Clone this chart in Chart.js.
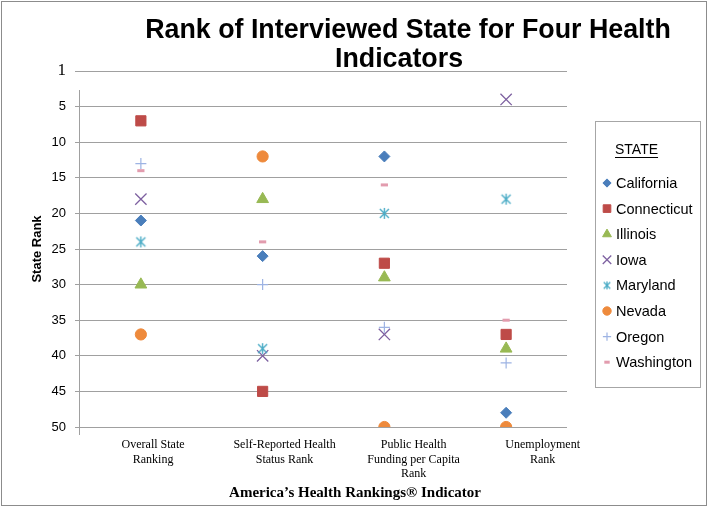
<!DOCTYPE html>
<html>
<head>
<meta charset="utf-8">
<script src="https://cdn.jsdelivr.net/npm/chart.js@4/dist/chart.umd.min.js"></script>
<style>
  body { margin: 0; background: #fff; }
  canvas { display: block; }
</style>
</head>
<body>
<canvas id="rankChart" width="708" height="507"></canvas>
<script>
// Data (rank 1 = best, axis runs 1..50 downwards)
const indicators = [
  ["Overall State", "Ranking"],
  ["Self-Reported Health", "Status Rank"],
  ["Public Health", "Funding per Capita", "Rank"],
  ["Unemployment", "Rank"],
];
const states = ["California", "Connecticut", "Illinois", "Iowa", "Maryland", "Nevada", "Oregon", "Washington"];
const california = [21, 26, 12, 48];
const connecticut = [7, 45, 27, 37];
const illinois = [30, 18, 29, 39];
const iowa = [18, 40, 37, 4];
const maryland = [24, 39, 20, 18];
const nevada = [37, 12, 50, 50];
const oregon = [13, 30, 36, 41];
const washington = [14, 24, 16, 35];
const yTickValues = [0, 5, 10, 15, 20, 25, 30, 35, 40, 45, 50];
const yTickLabels = ["1", "5", "10", "15", "20", "25", "30", "35", "40", "45", "50"];

const chartTitle = ["Rank of Interviewed State for Four Health", "Indicators"];
const xTitle = "America\u2019s Health Rankings\u00AE Indicator";
const yTitle = "State Rank";
const legendTitle = "STATE";

// where the indicator captions sit on the x scale (they are offset from the marks in the original)
const captionSpots = [0.6, 1.68, 2.74, 3.8];

function makeAsterisk(color, size, width) {
  const c = document.createElement("canvas");
  c.width = c.height = size;
  const g = c.getContext("2d");
  const m = size / 2;
  const a = size / 2 - 1;
  const d = a * 0.82;
  g.strokeStyle = color;
  g.lineWidth = width;
  g.beginPath();
  g.moveTo(m - d, m - d); g.lineTo(m + d, m + d);
  g.moveTo(m + d, m - d); g.lineTo(m - d, m + d);
  g.moveTo(m, m - a); g.lineTo(m, m + a);
  g.stroke();
  return c;
}

const looks = [
  { color: "#4A7EBB", style: "rectRot", radius: 5.5, border: 1 },
  { color: "#BE4B48", style: "rect", radius: 7.2, border: 1 },
  { color: "#98B954", style: "triangle", radius: 6.8, border: 1 },
  { color: "#7D60A0", style: "crossRot", radius: 8, border: 1.3 },
  { color: "#4BACC6", style: makeAsterisk("#4BACC6", 13, 1.4), small: makeAsterisk("#4BACC6", 10, 1.3), radius: 6, border: 1 },
  { color: "#EE8A3C", style: "circle", radius: 5.6, border: 1 },
  { color: "#9DB3E3", style: "cross", radius: 5.5, border: 1.2 },
  { color: "#E29CAE", style: "line", radius: 3.6, border: 3 },
];

const series = [california, connecticut, illinois, iowa, maryland, nevada, oregon, washington];

const datasets = states.map((name, i) => ({
  label: name,
  data: series[i].map((v, j) => ({ x: j + 0.5, y: v })),
  pointStyle: looks[i].style,
  pointRadius: looks[i].radius,
  borderWidth: looks[i].border,
  backgroundColor: looks[i].color,
  borderColor: looks[i].color,
  showLine: false,
  order: states.length - i,
}));

const decorations = {
  id: "decorations",
  afterDraw(chart) {
    const ctx = chart.ctx;
    ctx.save();

    // outer frame
    ctx.strokeStyle = "#8c8c8c";
    ctx.lineWidth = 1;
    ctx.strokeRect(1.5, 1.5, 705, 504);

    // vertical axis line
    ctx.strokeStyle = "#a0a0a0";
    ctx.beginPath();
    ctx.moveTo(79.5, 90);
    ctx.lineTo(79.5, 435);
    ctx.stroke();

    // main title
    ctx.fillStyle = "#000";
    ctx.textAlign = "center";
    ctx.textBaseline = "middle";
    ctx.font = "bold 26.8px 'Liberation Sans', Arial, sans-serif";
    ctx.fillText(chartTitle[0], 408, 31);
    ctx.fillText(chartTitle[1], 399, 60);

    // x axis title
    ctx.font = "bold 15px 'Liberation Serif', 'Times New Roman', serif";
    ctx.fillText(xTitle, 355, 493);

    // legend
    ctx.strokeStyle = "#a6a6a6";
    ctx.strokeRect(595.5, 121.5, 105, 266);
    ctx.textAlign = "left";
    ctx.font = "14px 'Liberation Sans', Arial, sans-serif";
    ctx.fillText(legendTitle, 615, 150);
    const tw = ctx.measureText(legendTitle).width;
    ctx.fillRect(615, 157, tw, 1);

    ctx.font = "14.5px 'Liberation Sans', Arial, sans-serif";
    const drawPoint = Chart.helpers && Chart.helpers.drawPoint;
    states.forEach((name, i) => {
      const y = 183 + i * 25.6;
      const lk = looks[i];
      ctx.fillStyle = lk.color;
      ctx.strokeStyle = lk.color;
      ctx.lineWidth = lk.border;
      if (lk.small) {
        ctx.drawImage(lk.small, 607 - lk.small.width / 2, y - lk.small.height / 2);
      } else if (drawPoint) {
        drawPoint(ctx, { pointStyle: lk.style, radius: lk.radius * 0.75, borderWidth: lk.border, rotation: 0 }, 607, y);
      }
      ctx.fillStyle = "#000";
      ctx.fillText(name, 616, y + 1);
    });

    ctx.restore();
  },
};

new Chart(document.getElementById("rankChart"), {
  type: "scatter",
  data: { datasets },
  options: {
    responsive: false,
    animation: false,
    events: [],
    layout: { padding: { top: 71, right: 141, bottom: 0, left: 0 } },
    plugins: {
      legend: { display: false },
      tooltip: { enabled: false },
    },
    scales: {
      x: {
        type: "linear",
        min: 0,
        max: 4,
        grid: { display: false },
        border: { display: false },
        afterBuildTicks: (s) => {
          s.ticks = captionSpots.map((v) => ({ value: v }));
        },
        afterFit: (s) => {
          s.height = 80;
        },
        ticks: {
          autoSkip: false,
          maxRotation: 0,
          padding: 3,
          color: "#000",
          font: { family: "'Liberation Serif', 'Times New Roman', serif", size: 12, lineHeight: 1.2 },
          callback: (v, i) => indicators[i],
        },
      },
      y: {
        reverse: true,
        min: 0,
        max: 50,
        afterFit: (s) => {
          s.width = 80;
        },
        afterBuildTicks: (s) => {
          s.ticks = yTickValues.map((v) => ({ value: v }));
        },
        border: { display: false },
        grid: { color: "#a0a0a0", lineWidth: 1, tickLength: 5 },
        ticks: {
          padding: 9,
          color: "#000",
          font: (c) =>
            c.tick && c.tick.value === 0
              ? { family: "'Liberation Serif', 'Times New Roman', serif", size: 17 }
              : { family: "'Liberation Sans', Arial, sans-serif", size: 13 },
          callback: (v) => yTickLabels[yTickValues.indexOf(v)],
        },
        title: {
          display: true,
          text: yTitle,
          color: "#000",
          font: { family: "'Liberation Sans', Arial, sans-serif", size: 13, weight: "bold" },
          padding: { top: 30, bottom: 0 },
        },
      },
    },
  },
  plugins: [decorations],
});
</script>
</body>
</html>
